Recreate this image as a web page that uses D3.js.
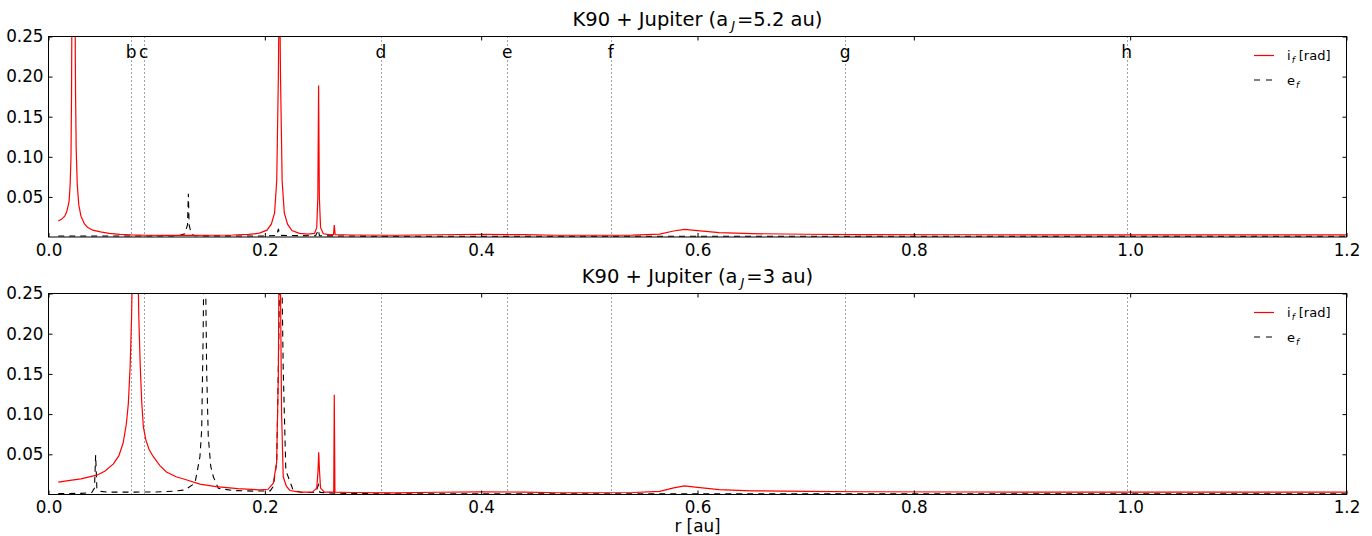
<!DOCTYPE html>
<html><head><meta charset="utf-8">
<script src="https://cdn.jsdelivr.net/npm/d3@7"></script>
<style>body{margin:0;background:#fff} text{font-family:"DejaVu Sans","Bitstream Vera Sans",sans-serif;fill:#000}</style>
</head><body><svg id="c" width="1372" height="536"></svg>
<script>
// ---------- data ----------
const xTicks = [0.0, 0.2, 0.4, 0.6, 0.8, 1.0, 1.2];
const xTickLabels = ["0.0", "0.2", "0.4", "0.6", "0.8", "1.0", "1.2"];
const yTicks = [0.05, 0.10, 0.15, 0.20, 0.25];
const yTickLabels = ["0.05", "0.10", "0.15", "0.20", "0.25"];
const planetNames = ["b", "c", "d", "e", "f", "g", "h"];
const planetR = [0.0763, 0.0880, 0.3074, 0.4242, 0.5197, 0.7364, 0.9968];
const panelTitles = ["5.2 au)", "3 au)"];

// top panel (a_J = 5.2 au)
const topIncR = [0.009,0.012,0.015,0.017,0.019,0.020,0.0208,0.0213,0.0217,0.0245,0.0250,0.0256,0.0266,0.028,0.030,0.033,0.036,0.041,0.048,0.056,0.066,0.076,0.09,0.11,0.13,0.15,0.17,0.185,0.195,0.202,0.206,0.209,0.211,0.2125,0.2132,0.2138,0.2145,0.216,0.218,0.221,0.225,0.232,0.240,0.246,0.248,0.249,0.2497,0.2504,0.2515,0.254,0.260,0.2635,0.2642,0.2650,0.28,0.32,0.36,0.40,0.44,0.47,0.50,0.54,0.565,0.578,0.588,0.600,0.620,0.650,0.70,0.75,0.85,1.00,1.20];
const topIncV = [0.020,0.022,0.026,0.032,0.044,0.065,0.10,0.18,0.30,0.30,0.18,0.11,0.065,0.040,0.026,0.017,0.012,0.0085,0.0063,0.0045,0.0033,0.0026,0.0022,0.0021,0.0021,0.0022,0.0025,0.0032,0.0048,0.0085,0.016,0.03,0.07,0.2,0.30,0.30,0.2,0.07,0.03,0.016,0.008,0.0045,0.0035,0.0045,0.012,0.05,0.189,0.05,0.012,0.004,0.003,0.003,0.015,0.003,0.0025,0.0022,0.0028,0.0032,0.0030,0.0022,0.0022,0.0024,0.0035,0.0075,0.0096,0.0080,0.0055,0.0042,0.0034,0.0030,0.0028,0.0027,0.0027];
const topEccR = [0.009,0.05,0.10,0.120,0.126,0.1285,0.1293,0.1300,0.132,0.135,0.20,0.211,0.2125,0.2140,0.247,0.2495,0.2505,0.30,0.60,1.20];
const topEccV = [0.0012,0.0012,0.0012,0.0015,0.004,0.015,0.054,0.015,0.004,0.0015,0.0012,0.002,0.010,0.002,0.0015,0.009,0.0015,0.0010,0.0010,0.0010];

// bottom panel (a_J = 3 au)
const botIncR = [0.009,0.02,0.03,0.0446,0.052,0.060,0.065,0.069,0.072,0.0738,0.0755,0.0768,0.0778,0.0825,0.0835,0.0848,0.0862,0.0877,0.090,0.093,0.0969,0.103,0.109,0.118,0.128,0.140,0.155,0.175,0.1955,0.203,0.2078,0.2109,0.2125,0.2132,0.2142,0.2155,0.217,0.2200,0.2233,0.232,0.244,0.248,0.2492,0.2498,0.2505,0.2515,0.255,0.2637,0.2642,0.2648,0.28,0.32,0.36,0.40,0.44,0.47,0.50,0.54,0.565,0.578,0.588,0.600,0.620,0.650,0.70,0.75,0.85,1.00,1.20];
const botIncV = [0.0155,0.0175,0.0195,0.024,0.029,0.038,0.048,0.064,0.088,0.113,0.16,0.22,0.30,0.30,0.22,0.16,0.115,0.084,0.068,0.056,0.047,0.036,0.028,0.022,0.018,0.013,0.0097,0.0072,0.0058,0.0065,0.014,0.040,0.15,0.30,0.30,0.10,0.022,0.010,0.005,0.003,0.003,0.008,0.03,0.0525,0.03,0.008,0.003,0.003,0.124,0.003,0.0025,0.002,0.0028,0.0033,0.0030,0.0022,0.0022,0.0025,0.0038,0.0082,0.0106,0.0088,0.006,0.0046,0.0038,0.0034,0.0031,0.0030,0.0029];
const botEccR = [0.009,0.03,0.040,0.0425,0.0436,0.0447,0.047,0.055,0.08,0.10,0.115,0.126,0.1354,0.140,0.1416,0.1430,0.1437,0.1450,0.1462,0.1477,0.1500,0.1524,0.157,0.170,0.19,0.205,0.2078,0.211,0.213,0.2138,0.2155,0.217,0.2194,0.2263,0.235,0.247,0.2495,0.251,0.27,0.30,0.60,1.20];
const botEccV = [0.0012,0.0014,0.0025,0.008,0.049,0.008,0.004,0.0030,0.0030,0.0032,0.0040,0.0056,0.014,0.047,0.080,0.20,0.30,0.30,0.155,0.072,0.035,0.022,0.0077,0.0050,0.0042,0.0045,0.010,0.04,0.20,0.30,0.30,0.155,0.030,0.005,0.0025,0.0025,0.012,0.0025,0.0015,0.0010,0.0010,0.0010];

// ---------- drawing ----------
const svg = d3.select("#c");
const X0 = 48.5, X1 = 1346.5;
const x = d3.scaleLinear().domain([0, 1.2]).range([X0, X1]);

const panels = [
  {top: 36.5, bottom: 237, incR: topIncR, incV: topIncV, eccR: topEccR, eccV: topEccV, title: panelTitles[0], labels: true, xlabel: false},
  {top: 293.5, bottom: 494.5, incR: botIncR, incV: botIncV, eccR: botEccR, eccV: botEccV, title: panelTitles[1], labels: false, xlabel: true}
];

panels.forEach((p, i) => {
  const y = d3.scaleLinear().domain([0, 0.25]).range([p.bottom, p.top]);
  const g = svg.append("g");
  const clipId = "clip" + i;
  svg.append("clipPath").attr("id", clipId).append("rect")
    .attr("x", X0).attr("y", p.top).attr("width", X1 - X0).attr("height", p.bottom - p.top);

  // planet dotted lines
  g.append("g").attr("clip-path", `url(#${clipId})`).selectAll("line").data(planetR).join("line")
    .attr("x1", d => Math.round(x(d)) + 0.5).attr("x2", d => Math.round(x(d)) + 0.5)
    .attr("y1", p.top).attr("y2", p.bottom)
    .attr("stroke", "#444").attr("stroke-width", 1).attr("stroke-dasharray", "1,3");

  if (p.labels) {
    g.selectAll("text.pl").data(planetNames).join("text").attr("class", "pl")
      .attr("x", (d, j) => x(planetR[j])).attr("y", p.top + 21)
      .attr("text-anchor", "middle").attr("font-size", "17px").text(d => d);
  }

  const line = (rs, vs) => d3.line().x(j => x(rs[j])).y(j => y(vs[j]))(d3.range(rs.length));
  const plot = g.append("g").attr("clip-path", `url(#${clipId})`);
  plot.append("path").attr("d", line(p.eccR, p.eccV)).attr("fill", "none")
    .attr("stroke", "#000").attr("stroke-width", 1.1).attr("stroke-dasharray", "6,5");
  plot.append("path").attr("d", line(p.incR, p.incV)).attr("fill", "none")
    .attr("stroke", "#ff0000").attr("stroke-width", 1.2);

  // axes (inside ticks on all sides)
  const tickLen = 4;
  const xa = d3.axisBottom(x).tickValues(xTicks).tickSize(-tickLen).tickPadding(7)
    .tickFormat((d, j) => xTickLabels[j]);
  const gx = g.append("g").attr("transform", `translate(0,${p.bottom})`).call(xa);
  gx.select(".domain").remove();
  gx.selectAll("text").attr("font-size", "16.8px").attr("font-family", "DejaVu Sans").attr("fill", "#000");
  const gxt = g.append("g").attr("transform", `translate(0,${p.top})`).call(d3.axisTop(x).tickValues(xTicks).tickSize(-tickLen).tickFormat(""));
  gxt.select(".domain").remove();

  const ya = d3.axisLeft(y).tickValues(yTicks).tickSize(-tickLen).tickPadding(5)
    .tickFormat((d, j) => yTickLabels[j]);
  const gy = g.append("g").attr("transform", `translate(${X0},0)`).call(ya);
  gy.select(".domain").remove();
  gy.selectAll("text").attr("font-size", "16.8px").attr("font-family", "DejaVu Sans").attr("fill", "#000");
  const gyr = g.append("g").attr("transform", `translate(${X1},0)`).call(d3.axisRight(y).tickValues(yTicks).tickSize(-tickLen).tickFormat(""));
  gyr.select(".domain").remove();

  g.append("rect").attr("x", X0).attr("y", p.top).attr("width", X1 - X0).attr("height", p.bottom - p.top)
    .attr("fill", "none").attr("stroke", "#000").attr("stroke-width", 1);

  // title
  const t = g.append("text").attr("x", (X0 + X1) / 2).attr("y", p.top - 10.5)
    .attr("text-anchor", "middle").attr("font-size", "19.5px");
  t.append("tspan").text("K90 + Jupiter (a");
  t.append("tspan").attr("font-size", "13px").attr("font-style", "italic").attr("dy", 4).attr("dx", 3).text("J");
  t.append("tspan").attr("dy", -4).attr("dx", 2).text("=" + p.title);

  // legend
  const ly = p.top + 19;
  g.append("line").attr("x1", 1254).attr("x2", 1274).attr("y1", ly).attr("y2", ly)
    .attr("stroke", "#ff0000").attr("stroke-width", 1.2);
  g.append("line").attr("x1", 1254).attr("x2", 1274).attr("y1", ly + 24.5).attr("y2", ly + 24.5)
    .attr("stroke", "#000").attr("stroke-width", 1.1).attr("stroke-dasharray", "6,6");
  const l1 = g.append("text").attr("x", 1287).attr("y", ly + 4.5).attr("font-size", "13px");
  l1.append("tspan").text("i");
  l1.append("tspan").attr("font-size", "9px").attr("font-style", "italic").attr("dy", 3).attr("dx", 1).text("f");
  l1.append("tspan").attr("dy", -3).attr("dx", 4).text("[rad]");
  const l2 = g.append("text").attr("x", 1287).attr("y", ly + 29).attr("font-size", "13px");
  l2.append("tspan").text("e");
  l2.append("tspan").attr("font-size", "9px").attr("font-style", "italic").attr("dy", 3).attr("dx", 1).text("f");

  if (p.xlabel) {
    g.append("text").attr("x", (X0 + X1) / 2).attr("y", p.bottom + 37).attr("text-anchor", "middle")
      .attr("font-size", "16.8px").text("r [au]");
  }
});
</script></body></html>
